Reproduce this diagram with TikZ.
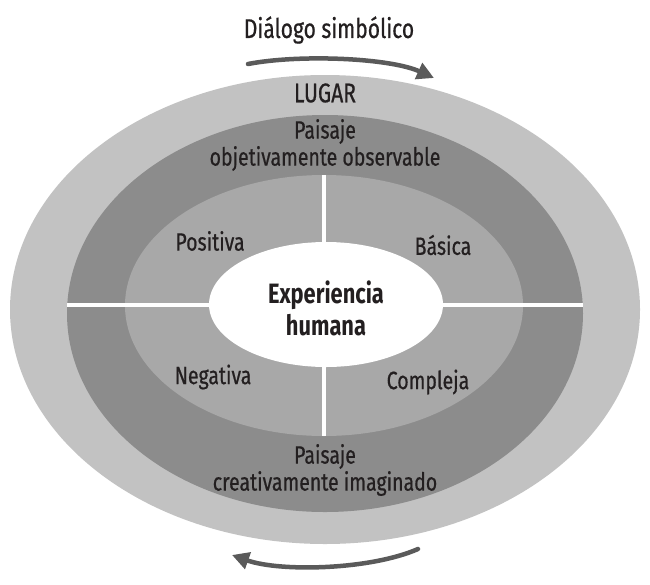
\documentclass[tikz,border=0pt]{standalone}
\usepackage{fontspec}
\setmainfont{Fira Sans}[FakeStretch=0.78]
\newfontfamily\lblfont{Fira Sans}[FakeStretch=0.78, FakeBold=0.6]
\usetikzlibrary{shapes.geometric,arrows.meta}
\definecolor{ringouter}{RGB}{194,194,194}
\definecolor{ringdark}{RGB}{140,140,140}
\definecolor{ringmid}{RGB}{168,168,168}
\definecolor{arrowgray}{RGB}{90,90,90}
\definecolor{txt}{RGB}{35,31,32}
\tikzset{
  ring/.style={ellipse, inner sep=0pt, draw=none},
  sepline/.style={draw=white, line width=3.5pt},
  flow/.style={draw=arrowgray, line width=4.5pt, line cap=round, -{Triangle[length=17pt,width=17pt]}},
  lbl/.style={text=txt, align=center, inner sep=0pt, font=\lblfont\fontsize{25}{27}\selectfont},
  biglbl/.style={text=txt, align=center, inner sep=0pt, font=\lblfont\fontsize{27}{30}\selectfont},
  core/.style={text=txt, align=center, inner sep=0pt, font=\fontsize{28}{32}\selectfont\bfseries}
}
\begin{document}
\begin{tikzpicture}[x=1pt,y=-1pt]
\useasboundingbox (0,0) rectangle (650,584);
\fill[white] (0,0) rectangle (650,584);
% rings
\node[ring, fill=ringouter, minimum width=630pt, minimum height=469pt] (lugar) at (325,309.5) {};
\node[ring, fill=ringdark, minimum width=516pt, minimum height=397pt] (paisaje) at (325,313.5) {};
\node[ring, fill=ringmid, minimum width=398pt, minimum height=261pt] (tipos) at (324,305.5) {};
% separators
\coordinate (hl) at (67,305);
\coordinate (hr) at (583,305);
\draw[sepline] (hl) -- (hr);
\draw[sepline] (tipos.north) -- (tipos.south);
% core
\node[ring, fill=white, minimum width=234pt, minimum height=125pt] (exp) at (326,304.5) {};
\node[core] (exptxt) at (326,308) {Experiencia\\humana};
% labels
\node[biglbl] (titulo) at (329,30) {Diálogo simbólico};
\node[biglbl] (lugartxt) at (325,93) {LUGAR};
\node[lbl] (obs) at (325,145) {Paisaje\\objetivamente observable};
\node[lbl] (ima) at (325,470) {Paisaje\\creativamente imaginado};
\node[lbl] (pos) at (210,241) {Positiva};
\node[lbl] (bas) at (443,245) {Básica};
\node[lbl] (neg) at (213,377) {Negativa};
\node[lbl] (com) at (428,382) {Compleja};
% arrows
\coordinate (ta) at (248,64);
\coordinate (tb) at (434,78);
\coordinate (ba) at (418,549);
\coordinate (bb) at (232,555);
\draw[flow] (ta) .. controls (300,54) and (390,58) .. (tb);
\draw[flow] (ba) .. controls (370,570) and (280,572) .. (bb);
\end{tikzpicture}
\end{document}
